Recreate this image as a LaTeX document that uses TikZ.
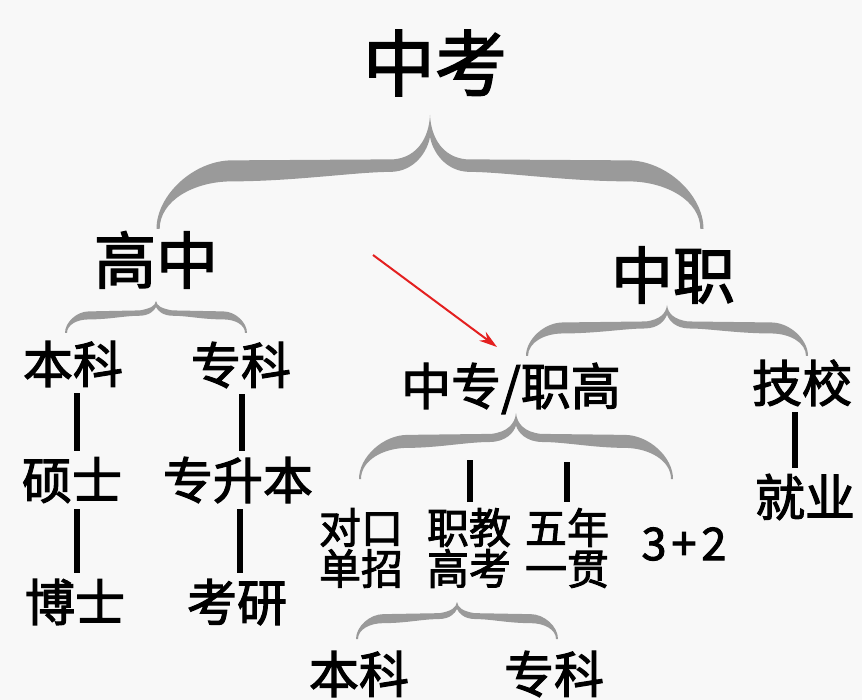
\documentclass[tikz,border=0pt]{standalone}
\usepackage{fontspec}
\setmainfont{Noto Sans CJK SC}[BoldFont=Noto Sans CJK SC, BoldFeatures={FakeBold=2.2}]
\usetikzlibrary{arrows.meta,calc}
\definecolor{bgc}{RGB}{248,248,248}
\definecolor{bracec}{RGB}{154,154,154}
\definecolor{arrowc}{RGB}{228,32,32}
\tikzset{
  pics/curly/.style n args={4}{code={%
    \pgfmathsetmacro\bW{#1}%
    \pgfmathsetmacro\bH{#2}%
    \pgfmathsetmacro\bT{#3}%
    \pgfmathsetmacro\ba{#4*#2}%
    \pgfmathsetmacro\bat{\ba-\bT/2}%
    \pgfmathsetmacro\bab{\ba+\bT/2}%
    \pgfmathsetmacro\br{1.1*(\bH-\bat)}%
    \pgfmathsetmacro\bc{0.25*\bH+8}%
    \pgfmathsetmacro\bn{0.19*\bH}%
    \pgfmathsetmacro\be{max(2,0.15*\bT)}%
    \pgfmathsetmacro\bm{\bab-0.45*\bT}%
    \fill[bracec] (-\bW,\bH) .. controls (-\bW,{\bat+0.5*(\bH-\bat)}) and ({-\bW+0.5*\br},\bat) .. ({-\bW+\br},\bat)
      -- (-\bc,{\bat-1}) .. controls ({-0.35*\bc},{\bat-3}) and (-1,{0.5*\bat}) .. (0,0)
      .. controls (1,{0.5*\bat}) and ({0.35*\bc},{\bat-3}) .. (\bc,{\bat-1})
      -- ({\bW-\br},\bat) .. controls ({\bW-0.5*\br},\bat) and (\bW,{\bat+0.5*(\bH-\bat)}) .. (\bW,\bH)
      -- ({\bW-\be},\bH) .. controls ({\bW-\be},{\bab+0.4*(\bH-\bab)}) and ({\bW-0.5*\br},\bab) .. ({\bW-\br},\bab)
      .. controls ({0.5*\bW},\bab) and ({2*\bc},\bm) .. ({1.1*\bc},\bm)
      .. controls ({0.4*\bc},\bm) and (2,{\bn+0.3*(\bab-\bn)}) .. (0,\bn)
      .. controls (-2,{\bn+0.3*(\bab-\bn)}) and ({-0.4*\bc},\bm) .. ({-1.1*\bc},\bm)
      .. controls ({-2*\bc},\bm) and ({-0.5*\bW},\bab) .. ({-\bW+\br},\bab)
      .. controls ({-\bW+0.5*\br},\bab) and ({-\bW+\be},{\bab+0.4*(\bH-\bab)}) .. ({-\bW+\be},\bH) -- cycle;
  }},
  lbl/.style={inner xsep=2pt, inner ysep=6pt, text height=0.84*#1pt, text depth=0.08*#1pt,
    font=\bfseries\fontsize{#1}{#1}\selectfont},
  twoline/.style={inner xsep=2pt, inner ysep=6pt, align=center,
    font=\bfseries\fontsize{42}{41}\selectfont},
  bar/.style={line width=5.5pt, black},
  redarrow/.style={arrowc, line width=2pt, -{Stealth[length=18pt,width=11pt]}}
}
\begin{document}
\begin{tikzpicture}[x=1pt,y=-1pt]
\useasboundingbox (0,0) rectangle (862,700);
\fill[bgc] (0,0) rectangle (862,700);
\clip (0,0) rectangle (862,700);

% braces
\pic at (430,115) {curly={273.5}{114}{21}{0.49}};
\pic at (156,301) {curly={91}{32}{8}{0.45}};
\pic at (667,305) {curly={141}{51}{11}{0.45}};
\pic at (516,413) {curly={157}{66}{13}{0.43}};
\pic at (457,602) {curly={101}{37}{9}{0.45}};

% labels
\node[lbl=72] (zk) at (435,63) {中考};
\node[lbl=62] (gz) at (156,260) {高中};
\node[lbl=62] (zz) at (673,275) {中职};
\node[lbl=50] (bk1) at (73,364) {本科};
\node[lbl=50] (zk1) at (241,365) {专科};
\node[lbl=50] (ss) at (72,480) {硕士};
\node[lbl=50] (zsb) at (238,480) {专升本};
\node[lbl=50] (bs) at (75,602) {博士};
\node[lbl=50] (ky) at (237,602) {考研};
\node[lbl=50] (zzzg) at (511,386) {中专/职高};
\node[lbl=50] (jx) at (802,383) {技校};
\node[lbl=50] (jy) at (805,497) {就业};
\node[twoline] (dk) at (361,548) {对口\\单招};
\node[twoline] (zj) at (469,548) {职教\\高考};
\node[twoline] (wn) at (567,548) {五年\\一贯};
\node[lbl=45] (s32) at (684,543) {3\kern5pt+\kern5pt2};
\node[lbl=50] (bk2) at (359,674) {本科};
\node[lbl=50] (zk2) at (554,674) {专科};

% bars
\draw[bar] ([xshift=4pt]bk1.south) -- ([xshift=4pt]bk1.south |- ss.north);
\draw[bar] ([xshift=5pt]ss.south) -- ([xshift=5pt]ss.south |- bs.north);
\draw[bar] ([xshift=1pt]zk1.south) -- ([xshift=1pt]zk1.south |- zsb.north);
\draw[bar] ([xshift=2pt]zsb.south) -- ([xshift=2pt]zsb.south |- ky.north);
\draw[bar] ([xshift=-7pt]jx.south) -- ([xshift=-7pt]jx.south |- jy.north);
\coordinate (zjtop) at (470,460);
\coordinate (wntop) at (567,462);
\draw[bar] (zj.north -| zjtop) -- (zjtop);
\draw[bar] (wn.north) -- (wntop);
\coordinate (bk2end) at (360,720);
\coordinate (zk2end) at (560,720);
\draw[bar] (bk2.south -| bk2end) -- (bk2end);
\draw[bar] (zk2.south -| zk2end) -- (zk2end);

% red arrow
\coordinate (ra) at (373,255);
\coordinate (rb) at (497,347);
\draw[redarrow] (ra) -- (rb);
\end{tikzpicture}
\end{document}
